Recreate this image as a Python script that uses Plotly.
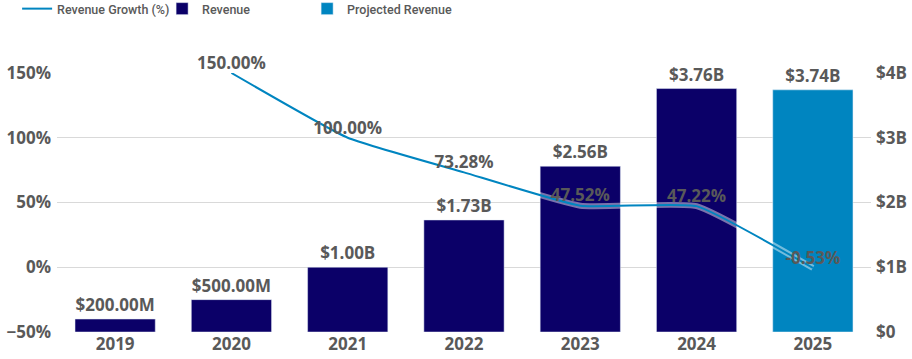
import plotly.graph_objects as go

years = ["2019", "2020", "2021", "2022", "2023", "2024", "2025"]
revenue = [0.20, 0.50, 1.00, 1.73, 2.56, 3.76, None]
revenue_labels = ["$200.00M", "$500.00M", "$1.00B", "$1.73B", "$2.56B", "$3.76B", ""]
projected = [None, None, None, None, None, None, 3.74]
projected_labels = ["", "", "", "", "", "", "$3.74B"]
growth = [None, 150.00, 100.00, 73.28, 47.52, 47.22, -0.53]
growth_labels = ["", "150.00%", "100.00%", "73.28%", "47.52%", "47.22%", "-0.53%"]

GREY = "#595959"
NAVY = "#0b0068"
BLUE = "#0085c0"
FONT = "Open Sans"

fig = go.Figure()
fig.add_trace(go.Bar(
    x=years, y=revenue, name="Revenue", marker_color=NAVY,
    text=revenue_labels, textposition="outside", cliponaxis=False,
    textfont=dict(family=FONT, size=17, color=GREY, weight=700),
    yaxis="y", legendrank=2, legendwidth=100,
))
fig.add_trace(go.Bar(
    x=years, y=projected, name="Projected Revenue", marker_color=BLUE,
    text=projected_labels, textposition="outside", cliponaxis=False,
    textfont=dict(family=FONT, size=17, color=GREY, weight=700),
    yaxis="y", legendrank=3, legendwidth=140,
))
# translucent halo under the growth line
fig.add_trace(go.Scatter(
    x=years, y=growth, mode="lines", yaxis="y2", showlegend=False,
    line=dict(color="rgba(255,255,255,0.45)", width=6, shape="spline", smoothing=0.4),
    hoverinfo="skip",
))
fig.add_trace(go.Scatter(
    x=years, y=growth, name="Revenue Growth (%)", mode="lines+text",
    text=growth_labels, textposition="top center", cliponaxis=False,
    textfont=dict(family=FONT, size=17, color=GREY, weight=700),
    line=dict(color=BLUE, width=2, shape="spline", smoothing=0.4),
    yaxis="y2", legendrank=1, legendwidth=100,
))

fig.update_layout(
    width=912, height=359,
    margin=dict(l=57, r=41, t=73, b=27, autoexpand=False),
    paper_bgcolor="white", plot_bgcolor="white",
    barmode="overlay", bargap=0.31,
    font=dict(family=FONT, color=GREY),
    legend=dict(
        orientation="h", xref="paper", yref="paper",
        x=-0.049, xanchor="left", y=1.305, yanchor="top",
        font=dict(family="Roboto", size=12.5, color=GREY, weight=500),
        itemwidth=30, traceorder="normal",
        bgcolor="rgba(0,0,0,0)",
    ),
    xaxis=dict(
        type="category", showgrid=False, showline=False, ticks="", automargin=False,
        tickfont=dict(family=FONT, size=17, color=GREY, weight=700),
    ),
    yaxis=dict(
        side="right", range=[0, 4], showgrid=False, zeroline=False, automargin=False,
        tickvals=[0, 1, 2, 3, 4], ticktext=["$0", "$1B", "$2B", "$3B", "$4B"],
        ticks="", ticklabelstandoff=4,
        tickfont=dict(family=FONT, size=17, color=GREY, weight=700),
    ),
    yaxis2=dict(
        overlaying="y", side="left", range=[-50, 150], dtick=50, automargin=False,
        showgrid=True, gridcolor="#d9d9d9", gridwidth=1,
        zeroline=True, zerolinecolor="#d9d9d9", zerolinewidth=1,
        ticksuffix="%", ticks="", ticklabelstandoff=5,
        tickfont=dict(family=FONT, size=17, color=GREY, weight=700),
    ),
)

fig.write_html("out.html", config={"displayModeBar": False},
               post_script="document.body.style.margin='0';")
